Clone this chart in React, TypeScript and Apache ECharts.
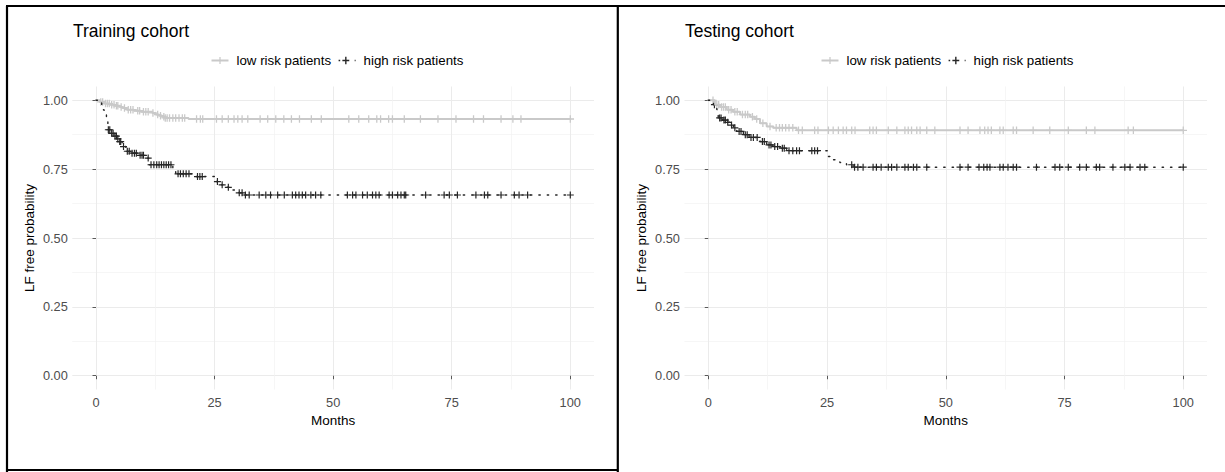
import React, { useEffect, useRef } from "react";
import * as echarts from "echarts";

const panelTitles = ["Training cohort", "Testing cohort"];
const groupNames = ["low risk patients", "high risk patients"];
const xAxisTitle = "Months";
const yAxisTitle = "LF free probability";
const xTicks = [0, 25, 50, 75, 100];
const xMinorTicks = [12.5, 37.5, 62.5, 87.5];
const yTicks = [0, 0.25, 0.5, 0.75, 1];
const yMinorTicks = [0.125, 0.375, 0.625, 0.875];

// Training cohort, low risk: step times and survival
const trainLowTime = [0, 0.8, 1.8, 3.0, 4.0, 5.0, 5.6, 6.5, 8.0, 9.5, 11.9, 12.6, 13.3, 14.0, 14.6, 19.5, 100];
const trainLowSurv = [1, 0.994, 0.988, 0.984, 0.98, 0.976, 0.972, 0.966, 0.962, 0.958, 0.954, 0.948, 0.944, 0.94, 0.936, 0.932, 0.932];
const trainLowCensor = [1.0, 1.4, 2.0, 2.4, 2.8, 3.3, 3.8, 4.3, 4.6, 5.3, 6.0, 6.8, 7.3, 7.8, 8.8, 9.2, 10.0, 10.5, 11.0, 12.0, 13.0, 13.6, 14.3, 14.6, 15.0, 15.5, 16.2, 16.8, 17.5, 18.2, 18.7, 21.2, 22.0, 22.5, 25.4, 26.6, 27.9, 29.1, 29.9, 30.8, 32.0, 34.6, 36.2, 37.9, 39.6, 41.2, 42.9, 45.4, 47.5, 53.3, 55.4, 57.5, 59.2, 60.0, 61.7, 62.5, 65.0, 68.4, 72.1, 75.9, 79.6, 81.7, 85.4, 87.9, 89.6, 100];

// Training cohort, high risk
const trainHighTime = [0, 0.4, 1.2, 1.7, 2.2, 2.5, 3.2, 3.8, 4.4, 4.9, 5.5, 6.3, 7.2, 9.0, 10.5, 11.2, 16.2, 16.8, 20.8, 25.2, 26.0, 27.4, 28.8, 30.2, 31.0, 100];
const trainHighSurv = [1, 0.99, 0.966, 0.954, 0.923, 0.893, 0.88, 0.87, 0.86, 0.85, 0.832, 0.815, 0.808, 0.8, 0.79, 0.766, 0.747, 0.733, 0.723, 0.705, 0.693, 0.684, 0.674, 0.664, 0.656, 0.656];
const trainHighCensor = [2.6, 2.9, 3.3, 3.6, 4.0, 4.3, 4.6, 5.0, 5.2, 5.8, 6.6, 7.0, 7.6, 8.1, 8.5, 9.3, 9.7, 10.0, 11.0, 11.6, 12.2, 12.8, 13.3, 13.8, 14.3, 14.8, 15.3, 15.8, 17.3, 17.8, 18.4, 19.0, 19.6, 21.4, 21.9, 22.4, 25.6, 26.6, 27.9, 30.2, 30.8, 31.5, 32.3, 34.4, 35.8, 36.8, 38.3, 39.7, 41.4, 42.1, 42.8, 43.5, 44.2, 45.3, 46.3, 47.4, 53.0, 54.1, 54.8, 56.2, 57.2, 58.3, 59.0, 59.7, 61.8, 62.5, 63.6, 64.3, 65.0, 65.3, 69.5, 73.4, 74.5, 76.2, 80.1, 81.9, 82.6, 85.4, 88.2, 89.2, 91.0, 100];

// Testing cohort, low risk
const testLowTime = [0, 1.4, 2.5, 3.9, 5.2, 6.7, 8.8, 9.8, 10.9, 12.3, 13.7, 18.6, 100];
const testLowSurv = [1, 0.984, 0.976, 0.966, 0.958, 0.948, 0.94, 0.932, 0.917, 0.905, 0.9, 0.891, 0.891];
const testLowCensor = [1.0, 1.8, 2.2, 2.8, 3.2, 3.6, 4.3, 4.8, 5.6, 6.1, 7.2, 7.8, 8.3, 9.3, 10.2, 11.5, 13.0, 14.3, 15.0, 15.6, 16.3, 17.0, 17.8, 19.0, 19.8, 22.4, 23.1, 25.3, 26.3, 27.4, 28.4, 29.1, 30.2, 30.9, 34.0, 34.7, 35.4, 37.9, 39.7, 41.4, 42.1, 42.8, 43.9, 44.6, 46.0, 47.7, 53.0, 54.7, 57.2, 58.2, 58.9, 59.6, 61.4, 62.1, 64.2, 64.9, 68.4, 71.9, 75.8, 79.6, 81.4, 88.4, 89.5, 100];

// Testing cohort, high risk
const testHighTime = [0, 0.6, 1.1, 1.8, 2.1, 3.0, 3.8, 4.6, 5.3, 6.0, 7.4, 8.6, 10.9, 12.3, 13.6, 15.1, 16.5, 25.3, 26.3, 27.7, 29.1, 30.5, 100];
const testHighSurv = [1, 0.99, 0.984, 0.966, 0.936, 0.928, 0.92, 0.91, 0.9, 0.887, 0.875, 0.865, 0.85, 0.838, 0.832, 0.826, 0.817, 0.796, 0.784, 0.774, 0.766, 0.757, 0.757];
const testHighCensor = [1.3, 2.4, 2.7, 3.3, 3.6, 4.1, 4.9, 5.6, 6.5, 6.9, 7.8, 8.2, 9.0, 9.5, 10.3, 11.4, 11.8, 12.8, 13.2, 14.0, 14.6, 15.6, 16.0, 17.0, 17.8, 18.6, 19.2, 21.8, 22.4, 23.0, 30.2, 30.8, 31.5, 32.6, 34.7, 35.4, 36.4, 37.9, 38.6, 39.7, 41.4, 42.1, 43.2, 43.9, 46.0, 53.0, 54.7, 57.0, 58.0, 58.7, 59.3, 61.4, 62.1, 63.1, 64.2, 64.9, 69.1, 73.0, 74.0, 75.8, 78.2, 79.6, 81.7, 82.4, 85.2, 87.7, 88.8, 90.9, 91.9, 100];

const FONT = "'Liberation Sans', Arial, Helvetica, sans-serif";
const LOW_COLOR = "#c9c9c9";
const HIGH_COLOR = "#262626";
const PLUS = "path://M-0.17,-1 L0.17,-1 L0.17,-0.17 L1,-0.17 L1,0.17 L0.17,0.17 L0.17,1 L-0.17,1 L-0.17,0.17 L-1,0.17 L-1,-0.17 L-0.17,-0.17 Z";
const LOW_ICON = "path://M0,3.1 L17,3.1 L17,4.9 L0,4.9 Z M7.9,0.5 L9.1,0.5 L9.1,7.5 L7.9,7.5 Z";
const HIGH_ICON = "path://M2.2,3.4 L3.6,3.4 L3.6,4.6 L2.2,4.6 Z M7.9,0.8 L9.1,0.8 L9.1,7.2 L7.9,7.2 Z M5.5,3.45 L11.5,3.45 L11.5,4.55 L5.5,4.55 Z M16.2,3.4 L17,3.4 L17,4.6 L16.2,4.6 Z";

const panels = [
  {
    title: panelTitles[0],
    low: { t: trainLowTime, s: trainLowSurv, c: trainLowCensor },
    high: { t: trainHighTime, s: trainHighSurv, c: trainHighCensor },
  },
  {
    title: panelTitles[1],
    low: { t: testLowTime, s: testLowSurv, c: testLowCensor },
    high: { t: testHighTime, s: testHighSurv, c: testHighCensor },
  },
];

// layout (pixels)
const gridBoxes = [
  { left: 72.3, top: 86.5, width: 521.7, height: 303 },
  { left: 684.5, top: 86.5, width: 522.5, height: 303 },
];
const titleLefts = [73, 685];
const legendLefts = [211.5, 821.5];

function survAt(times: number[], surv: number[], t: number) {
  let s = surv[0];
  for (let i = 0; i < times.length; i++) if (times[i] <= t) s = surv[i];
  return s;
}

function buildOption() {
  const xAxis: any[] = [];
  const yAxis: any[] = [];
  const series: any[] = [];
  const title: any[] = [];
  const legend: any[] = [];

  panels.forEach((p, i) => {
    xAxis.push({
      type: "value",
      gridIndex: i,
      min: -5,
      max: 105,
      name: xAxisTitle,
      nameLocation: "middle",
      nameGap: 22,
      nameTextStyle: { color: "#000", fontSize: 13.5, fontFamily: FONT },
      axisLine: { show: false },
      axisTick: { show: true, length: 3.5, customValues: xTicks, lineStyle: { color: "#333", width: 0.8 } },
      axisLabel: { customValues: xTicks, margin: 6, color: "#4d4d4d", fontSize: 12.8, fontFamily: FONT },
      splitLine: { show: true, lineStyle: { color: "#ebebeb", width: 1 } },
    });
    xAxis.push({
      type: "value",
      gridIndex: i,
      min: -5,
      max: 105,
      axisLine: { show: false },
      axisTick: { show: false, customValues: xMinorTicks },
      axisLabel: { show: false, customValues: xMinorTicks },
      splitLine: { show: true, lineStyle: { color: "#f2f2f2", width: 0.7 } },
    });
    yAxis.push({
      type: "value",
      gridIndex: i,
      min: -0.05,
      max: 1.05,
      name: yAxisTitle,
      nameLocation: "middle",
      nameGap: 36,
      nameRotate: 90,
      nameTextStyle: { color: "#000", fontSize: 13.5, fontFamily: FONT },
      axisLine: { show: false },
      axisTick: { show: true, length: 3.5, customValues: yTicks, lineStyle: { color: "#333", width: 0.8 } },
      axisLabel: {
        customValues: yTicks,
        margin: 4.5,
        color: "#4d4d4d",
        fontSize: 12.8,
        fontFamily: FONT,
        formatter: (v: number) => v.toFixed(2),
      },
      splitLine: { show: true, lineStyle: { color: "#ebebeb", width: 1 } },
    });
    yAxis.push({
      type: "value",
      gridIndex: i,
      min: -0.05,
      max: 1.05,
      axisLine: { show: false },
      axisTick: { show: false, customValues: yMinorTicks },
      axisLabel: { show: false, customValues: yMinorTicks },
      splitLine: { show: true, lineStyle: { color: "#f2f2f2", width: 0.7 } },
    });

    title.push({
      text: p.title,
      left: titleLefts[i],
      top: 22,
      padding: 0,
      textStyle: { color: "#000", fontSize: 17.5, fontWeight: "normal", fontFamily: FONT },
    });

    legend.push({
      left: legendLefts[i],
      top: 54,
      orient: "horizontal",
      itemWidth: 17,
      itemHeight: 8,
      itemGap: 7.5,
      padding: 0,
      selectedMode: false,
      textStyle: { color: "#000", fontSize: 13.3, fontFamily: FONT, padding: [0, 0, 0, 3] },
      data: [
        { name: groupNames[0], icon: LOW_ICON, itemStyle: { color: LOW_COLOR } },
        { name: groupNames[1], icon: HIGH_ICON, itemStyle: { color: HIGH_COLOR } },
      ],
    });

    const groups = [
      { g: p.low, name: groupNames[0], color: LOW_COLOR, width: 2, type: "solid" as any, msize: 7.5 },
      { g: p.high, name: groupNames[1], color: HIGH_COLOR, width: 1.4, type: [1.4, 7] as any, msize: 7 },
    ];
    groups.forEach((gr) => {
      series.push({
        type: "line",
        name: gr.name,
        xAxisIndex: 2 * i,
        yAxisIndex: 2 * i,
        step: "end",
        showSymbol: false,
        symbol: "none",
        silent: true,
        data: gr.g.t.map((t, k) => [t, gr.g.s[k]]),
        lineStyle: { color: gr.color, width: gr.width, type: gr.type, cap: "round" },
        itemStyle: { color: gr.color },
      });
      series.push({
        type: "scatter",
        name: gr.name,
        xAxisIndex: 2 * i,
        yAxisIndex: 2 * i,
        silent: true,
        symbol: PLUS,
        symbolSize: gr.msize,
        data: gr.g.c.map((t) => [t, survAt(gr.g.t, gr.g.s, t)]),
        itemStyle: { color: gr.color, opacity: 1 },
      });
    });
  });

  const border = { stroke: "#000", lineWidth: 2.2 };
  const graphic = [
    { type: "line", shape: { x1: 6, y1: 6, x2: 1225, y2: 6 }, style: border },
    { type: "line", shape: { x1: 7, y1: 6, x2: 7, y2: 472 }, style: border },
    { type: "line", shape: { x1: 617.8, y1: 6, x2: 617.8, y2: 472 }, style: border },
    { type: "line", shape: { x1: 6, y1: 470, x2: 618, y2: 470 }, style: border },
  ];

  return {
    animation: false,
    backgroundColor: "#ffffff",
    textStyle: { fontFamily: FONT },
    grid: gridBoxes.map((g) => ({ ...g, containLabel: false })),
    title,
    legend,
    xAxis,
    yAxis,
    series,
    graphic,
  };
}

export default function App() {
  const ref = useRef<HTMLDivElement>(null);
  useEffect(() => {
    if (!ref.current) return;
    const chart = echarts.init(ref.current, undefined, { renderer: "svg" });
    chart.setOption(buildOption() as any);
    return () => chart.dispose();
  }, []);
  return (
    <div
      ref={ref}
      style={{ position: "fixed", left: 0, top: 0, width: 1225, height: 472, background: "#fff" }}
    />
  );
}
